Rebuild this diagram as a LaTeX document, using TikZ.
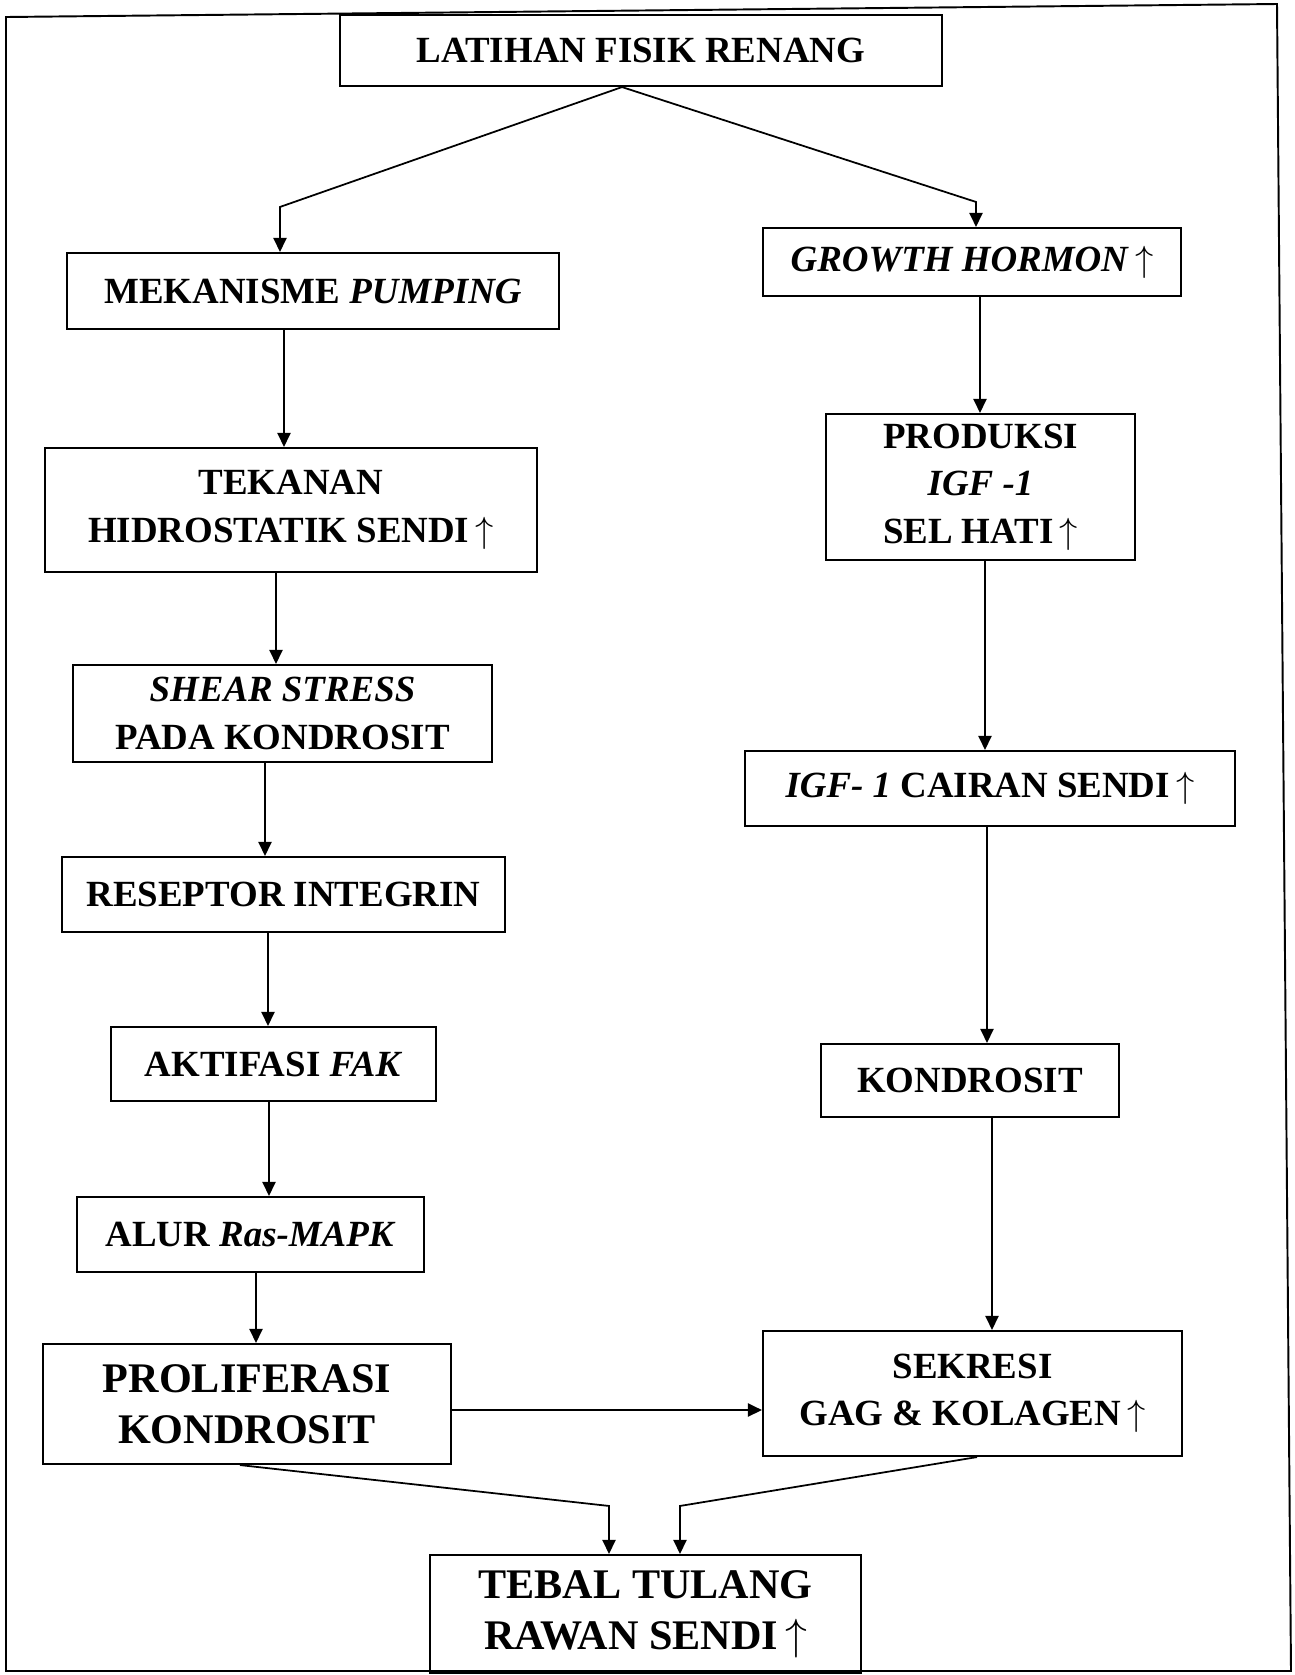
\documentclass[tikz,border=0pt]{standalone}
\usepackage{fontspec}
\setmainfont{Liberation Serif}
\usetikzlibrary{arrows.meta}

\newcommand{\naik}{\,$\uparrow$}

\begin{document}
\begin{tikzpicture}[line join=miter,
  kotak/.style={draw, line width=1.2pt, align=center, inner sep=0pt,
    font=\bfseries\fontsize{21}{27}\selectfont},
  besar/.style={font=\bfseries\fontsize{24}{29}\selectfont},
  panah/.style={line width=1pt, -{Triangle[length=8pt,width=7.5pt]}}]
\useasboundingbox (0,0) rectangle (25.9,-33.5);
% bingkai luar
\draw[line width=1.1pt] (0.12,-0.34) -- (25.54,-0.08) -- (25.82,-33.42) -- (0.12,-33.42) -- cycle;
% kolom kiri
\node[kotak, minimum width=12.04cm, minimum height=1.42cm] (latihan) at (12.82,-1.01) {LATIHAN FISIK RENANG};
\node[kotak, minimum width=9.84cm, minimum height=1.52cm] (mekanisme) at (6.26,-5.82) {MEKANISME \textit{PUMPING}};
\node[kotak, minimum width=9.84cm, minimum height=2.48cm] (tekanan) at (5.82,-10.2) {TEKANAN\\HIDROSTATIK SENDI\naik};
\node[kotak, minimum width=8.38cm, minimum height=1.94cm] (shear) at (5.65,-14.27) {\textit{SHEAR STRESS}\\PADA KONDROSIT};
\node[kotak, minimum width=8.86cm, minimum height=1.5cm] (reseptor) at (5.67,-17.89) {RESEPTOR INTEGRIN};
\node[kotak, minimum width=6.5cm, minimum height=1.48cm] (aktifasi) at (5.47,-21.28) {AKTIFASI \textit{FAK}};
\node[kotak, minimum width=6.94cm, minimum height=1.5cm] (alur) at (5.01,-24.69) {ALUR \textit{Ras-MAPK}};
\node[kotak, besar, minimum width=8.16cm, minimum height=2.4cm] (proliferasi) at (4.94,-28.08) {PROLIFERASI\\KONDROSIT};
% kolom kanan
\node[kotak, minimum width=8.36cm, minimum height=1.36cm] (growth) at (19.44,-5.24) {\textit{GROWTH HORMON}\naik};
\node[kotak, minimum width=6.18cm, minimum height=2.92cm] (produksi) at (19.61,-9.74) {PRODUKSI\\\textit{IGF -1}\\SEL HATI\naik};
\node[kotak, minimum width=9.8cm, minimum height=1.5cm] (igf) at (19.8,-15.77) {\textit{IGF- 1} CAIRAN SENDI\naik};
\node[kotak, minimum width=5.96cm, minimum height=1.46cm] (kondrosit) at (19.4,-21.61) {KONDROSIT};
\node[kotak, minimum width=8.38cm, minimum height=2.5cm] (sekresi) at (19.45,-27.87) {SEKRESI\\GAG \& KOLAGEN\naik};
% hasil akhir
\node[kotak, besar, minimum width=8.62cm, minimum height=2.36cm] (tebal) at (12.91,-32.28) {TEBAL TULANG\\RAWAN SENDI\naik};

% panah cabang atas
\draw[panah] ([xshift=-0.38cm]latihan.south) -- ([xshift=-0.66cm,yshift=0.9cm]mekanisme.north) -- ([xshift=-0.66cm]mekanisme.north);
\draw[panah] ([xshift=-0.38cm]latihan.south) -- ([xshift=0.08cm,yshift=0.5cm]growth.north) -- ([xshift=0.08cm]growth.north);
% panah kiri
\draw[panah] ([xshift=-0.58cm]mekanisme.south) -- ([xshift=-0.58cm]mekanisme.south |- tekanan.north);
\draw[panah] ([xshift=-0.30cm]tekanan.south) -- ([xshift=-0.30cm]tekanan.south |- shear.north);
\draw[panah] ([xshift=-0.35cm]shear.south) -- ([xshift=-0.35cm]shear.south |- reseptor.north);
\draw[panah] ([xshift=-0.31cm]reseptor.south) -- ([xshift=-0.31cm]reseptor.south |- aktifasi.north);
\draw[panah] ([xshift=-0.09cm]aktifasi.south) -- ([xshift=-0.09cm]aktifasi.south |- alur.north);
\draw[panah] ([xshift=0.11cm]alur.south) -- ([xshift=0.11cm]alur.south |- proliferasi.north);
% panah kanan
\draw[panah] ([xshift=0.16cm]growth.south) -- ([xshift=0.16cm]growth.south |- produksi.north);
\draw[panah] ([xshift=0.09cm]produksi.south) -- ([xshift=0.09cm]produksi.south |- igf.north);
\draw[panah] ([xshift=-0.06cm]igf.south) -- ([xshift=-0.06cm]igf.south |- kondrosit.north);
\draw[panah] ([xshift=0.44cm]kondrosit.south) -- ([xshift=0.44cm]kondrosit.south |- sekresi.north);
% panah bawah
\draw[panah] ([yshift=-0.12cm]proliferasi.east) -- ([yshift=-0.12cm]proliferasi.east -| sekresi.west);
\draw[panah] ([xshift=-0.14cm]proliferasi.south) -- ([xshift=-0.73cm,yshift=0.96cm]tebal.north) -- ([xshift=-0.73cm]tebal.north);
\draw[panah] ([xshift=0.09cm]sekresi.south) -- ([xshift=0.69cm,yshift=0.96cm]tebal.north) -- ([xshift=0.69cm]tebal.north);
\end{tikzpicture}
\end{document}
